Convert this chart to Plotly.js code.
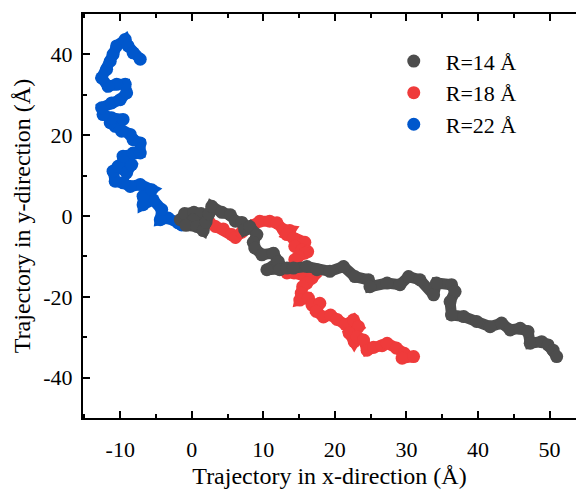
<!DOCTYPE html>
<html>
<head>
<meta charset="utf-8">
<script src="https://cdn.plot.ly/plotly-3.0.1.min.js"></script>
<style>html,body{margin:0;padding:0;background:#fff;}#chart{width:576px;height:489px;}</style>
</head>
<body>
<div id="chart"></div>
<script>
// Series names
var seriesNames = ['R=14 Å', 'R=18 Å', 'R=22 Å'];

// R=14 Å trajectory
var x14 = [-1.6, -1.0, 0.3, 1.3, 0.2, -0.8, 0.7, 1.6, 2.0, 2.4, 2.8, 4.2, 5.4, 6.1, 7.0, 7.4, 8.1, 9.1, 8.6, 8.8, 9.8, 11.4, 12.1, 10.5, 12.3, 13.3, 14.2, 16.1, 17.5, 19.3, 21.2, 22.8, 24.7, 24.9, 27.3, 29.1, 30.3, 31.9, 33.8, 34.2, 36.3, 36.8, 36.1, 36.3, 38.0, 39.8, 41.7, 43.3, 44.5, 45.9, 47.0, 47.3, 48.9, 49.8, 50.5, 51.0];
var y14 = [-0.9, 0.6, 0.9, 0.6, -1.0, -2.3, -2.6, -3.6, -1.5, 0.5, 2.4, 0.9, 0.3, -1.3, -1.6, -3.4, -2.6, -4.6, -6.5, -7.9, -9.6, -9.2, -11.3, -13.3, -13.3, -12.9, -12.9, -12.5, -13.3, -13.7, -12.5, -15.0, -15.8, -17.5, -16.6, -17.0, -15.0, -15.8, -19.5, -16.6, -17.0, -18.7, -21.2, -24.5, -24.9, -26.1, -27.4, -26.5, -28.2, -27.8, -28.6, -31.5, -31.1, -31.9, -33.2, -34.8];

// R=18 Å trajectory
var x18 = [2.5, 3.3, 4.4, 5.6, 6.1, 7.0, 7.8, 8.6, 9.5, 10.9, 11.9, 12.8, 13.7, 13.3, 14.2, 15.8, 14.4, 15.4, 16.2, 15.8, 14.9, 14.4, 14.5, 13.3, 14.3, 15.8, 16.8, 16.1, 15.5, 15.3, 15.1, 16.3, 16.8, 17.9, 17.4, 18.4, 19.4, 20.3, 21.5, 22.6, 23.3, 22.0, 22.7, 23.1, 24.0, 24.5, 25.4, 26.6, 27.3, 28.6, 29.7, 29.4, 31.0];
var y18 = [-1.7, -2.6, -3.2, -4.6, -5.3, -4.0, -3.0, -2.3, -1.3, -1.3, -1.7, -3.4, -3.6, -4.6, -5.5, -6.5, -7.5, -8.4, -8.8, -9.2, -10.0, -10.8, -12.5, -14.1, -14.1, -15.0, -15.4, -16.6, -17.5, -19.1, -20.8, -20.3, -22.0, -21.6, -23.6, -25.0, -24.5, -25.6, -26.9, -25.7, -27.4, -29.0, -31.1, -29.9, -30.7, -33.2, -32.5, -32.1, -31.5, -32.7, -34.0, -35.2, -34.8];

// R=22 Å trajectory
var x22 = [-1.4, -1.9, -3.3, -4.4, -4.2, -5.4, -6.8, -6.8, -5.6, -7.2, -8.6, -9.6, -10.7, -11.0, -10.3, -9.1, -8.4, -9.6, -8.2, -7.2, -7.2, -8.2, -8.6, -9.8, -10.7, -11.4, -9.6, -11.2, -12.4, -12.6, -11.2, -10.0, -9.1, -9.3, -10.5, -11.7, -12.6, -11.9, -11.4, -11.0, -10.5, -9.3, -8.9, -8.2, -7.2];
var y22 = [-2.2, -1.7, -0.5, -0.9, 1.6, 4.0, 2.8, 4.9, 6.5, 7.8, 7.3, 8.2, 8.6, 11.1, 12.3, 10.7, 12.7, 14.8, 15.6, 15.6, 18.1, 18.9, 20.2, 21.0, 22.2, 23.1, 23.9, 24.3, 25.1, 26.8, 28.0, 28.8, 30.5, 32.6, 32.6, 32.1, 34.2, 36.3, 38.3, 40.0, 42.1, 43.7, 42.1, 40.4, 38.8];

// Tick labels
var xTickVals = [-10, 0, 10, 20, 30, 40, 50];
var xTickText = ['-10', '0', '10', '20', '30', '40', '50'];
var yTickVals = [-40, -20, 0, 20, 40];
var yTickText = ['-40', '-20', '0', '20', '40'];

var colors = {'R=14 Å': '#4d4d4d', 'R=18 Å': '#ef3b3b', 'R=22 Å': '#0057cc'};
var dataMap = {
  'R=14 Å': [x14, y14],
  'R=18 Å': [x18, y18],
  'R=22 Å': [x22, y22]
};

var drawOrder = ['R=22 Å', 'R=18 Å', 'R=14 Å'];
var traces = [];
drawOrder.forEach(function (name) {
  var d = dataMap[name];
  traces.push({
    x: d[0], y: d[1], type: 'scatter', mode: 'lines',
    line: {color: colors[name], width: 11},
    showlegend: false, hoverinfo: 'skip', legendgroup: name
  });
  traces.push({
    x: d[0], y: d[1], type: 'scatter', mode: 'markers', name: name,
    marker: {color: colors[name], size: 13},
    legendgroup: name
  });
});

var fontFam = '"Liberation Serif", "Times New Roman", serif';
var layout = {
  width: 576, height: 489,
  margin: {l: 83, r: 0, t: 14, b: 71},
  paper_bgcolor: '#ffffff', plot_bgcolor: '#ffffff',
  font: {family: fontFam, color: '#000', size: 22},
  showlegend: true,
  legend: {
    x: 0.606, y: 0.935, xanchor: 'left', yanchor: 'top',
    traceorder: 'reversed', itemwidth: 54,
    font: {family: fontFam, size: 22, color: '#000'},
    bgcolor: 'rgba(0,0,0,0)', tracegroupgap: 0
  },
  xaxis: {
    range: [-15.2, 53.7], tickmode: 'array', tickvals: xTickVals, ticktext: xTickText,
    ticks: 'inside', ticklen: 7, tickwidth: 2, tickcolor: '#000',
    showline: true, linewidth: 2, linecolor: '#000', mirror: 'ticks',
    showgrid: false, zeroline: false,
    tickfont: {family: fontFam, size: 22, color: '#000'},
    ticklabelstandoff: 11,
    minor: {tickmode: 'linear', tick0: 0, dtick: 5, ticks: 'inside', ticklen: 4, tickwidth: 2, tickcolor: '#000', showgrid: false},
    title: {text: 'Trajectory in x-direction (Å)', font: {family: fontFam, size: 24, color: '#000'}, standoff: 12},
    automargin: false
  },
  yaxis: {
    range: [-50, 50], tickmode: 'array', tickvals: yTickVals, ticktext: yTickText,
    ticks: 'inside', ticklen: 7, tickwidth: 2, tickcolor: '#000',
    showline: true, linewidth: 2, linecolor: '#000', mirror: false,
    showgrid: false, zeroline: false,
    tickfont: {family: fontFam, size: 22, color: '#000'},
    ticklabelstandoff: 4,
    minor: {tickmode: 'linear', tick0: 0, dtick: 10, ticks: 'inside', ticklen: 4, tickwidth: 2, tickcolor: '#000', showgrid: false},
    title: {text: 'Trajectory in y-direction (Å)', font: {family: fontFam, size: 24, color: '#000'}, standoff: 6},
    automargin: false
  }
};

Plotly.newPlot('chart', traces, layout, {displayModeBar: false, staticPlot: true});
</script>
</body>
</html>
